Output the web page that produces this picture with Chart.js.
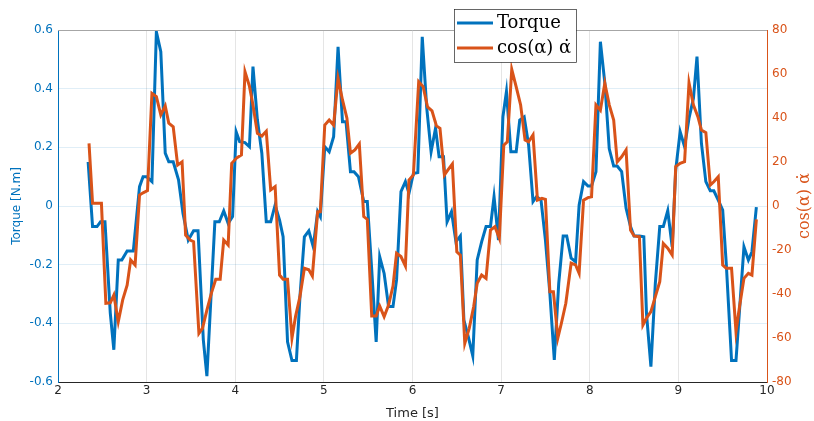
<!DOCTYPE html>
<html>
<head>
<meta charset="utf-8">
<script src="https://cdn.jsdelivr.net/npm/chart.js@4"></script>
<style>
  html, body { margin: 0; padding: 0; background: #fff; }
  #wrap { width: 814px; height: 421px; }
</style>
</head>
<body>
<div id="wrap"><canvas id="torqueChart" width="814" height="421"></canvas></div>
<script>
// Torque samples (time in s, torque in N.m)
const tTorque = [2.34, 2.39, 2.44, 2.48, 2.53, 2.59, 2.63, 2.68, 2.72, 2.78, 2.85, 2.92, 2.96, 3.00, 3.06, 3.11, 3.16, 3.21, 3.25, 3.30,
    3.36, 3.41, 3.47, 3.53, 3.58, 3.64, 3.68, 3.77, 3.82, 3.87, 3.92, 3.97, 4.01, 4.05, 4.11, 4.16, 4.20, 4.25, 4.30, 4.35,
    4.40, 4.45, 4.50, 4.54, 4.59, 4.64, 4.69, 4.73, 4.78, 4.83, 4.88, 4.93, 4.96, 5.01, 5.06, 5.11, 5.16, 5.21, 5.25, 5.30,
    5.34, 5.39, 5.45, 5.49, 5.54, 5.59, 5.63, 5.68, 5.73, 5.78, 5.82, 5.87, 5.92, 5.96, 6.01, 6.06, 6.11, 6.16, 6.21, 6.26,
    6.30, 6.35, 6.39, 6.44, 6.49, 6.54, 6.58, 6.63, 6.68, 6.73, 6.78, 6.83, 6.88, 6.92, 6.97, 7.02, 7.06, 7.11, 7.17, 7.21,
    7.26, 7.31, 7.36, 7.40, 7.45, 7.50, 7.55, 7.60, 7.65, 7.70, 7.74, 7.79, 7.84, 7.88, 7.93, 7.98, 8.02, 8.07, 8.12, 8.17,
    8.22, 8.27, 8.31, 8.36, 8.41, 8.46, 8.50, 8.56, 8.61, 8.64, 8.69, 8.74, 8.79, 8.83, 8.88, 8.93, 8.97, 9.02, 9.07, 9.12,
    9.17, 9.21, 9.26, 9.31, 9.36, 9.40, 9.45, 9.50, 9.54, 9.60, 9.65, 9.69, 9.74, 9.79, 9.83, 9.88];
const torque = [0.15, -0.07, -0.07, -0.054, -0.054, -0.365, -0.49, -0.184, -0.184, -0.153, -0.153, 0.066, 0.10, 0.10, 0.083, 0.594, 0.526, 0.18, 0.151, 0.151,
    0.089, -0.025, -0.116, -0.084, -0.084, -0.457, -0.58, -0.054, -0.054, -0.017, -0.059, -0.036, 0.253, 0.219, 0.216, 0.202, 0.475, 0.293, 0.18, -0.054,
    -0.054, 0.003, -0.048, -0.105, -0.463, -0.527, -0.527, -0.309, -0.105, -0.085, -0.139, -0.019, -0.036, 0.202, 0.185, 0.236, 0.543, 0.287, 0.287, 0.117,
    0.117, 0.10, 0.015, 0.015, -0.218, -0.463, -0.173, -0.23, -0.343, -0.343, -0.252, 0.049, 0.083, 0.043, 0.111, 0.114, 0.577, 0.336, 0.185, 0.265,
    0.168, 0.168, -0.054, -0.019, -0.122, -0.102, -0.389, -0.446, -0.511, -0.184, -0.122, -0.07, -0.07, 0.032, -0.116, 0.304, 0.39, 0.185, 0.185, 0.293,
    0.304, 0.208, 0.015, 0.032, 0.02, -0.116, -0.298, -0.525, -0.264, -0.102, -0.102, -0.178, -0.19, 0.003, 0.083, 0.068, 0.068, 0.117, 0.56, 0.42,
    0.195, 0.136, 0.136, 0.117, -0.008, -0.07, -0.102, -0.102, -0.105, -0.366, -0.548, -0.264, -0.07, -0.07, -0.016, -0.139, 0.123, 0.253, 0.202, 0.299,
    0.367, 0.509, 0.214, 0.083, 0.052, 0.052, 0.02, -0.014, -0.195, -0.527, -0.527, -0.355, -0.139, -0.184, -0.156, -0.004];

// cos(alpha) * alpha-dot samples
const tRate = [2.35, 2.39, 2.49, 2.54, 2.59, 2.63, 2.68, 2.73, 2.78, 2.82, 2.87, 2.92, 2.96, 3.01, 3.06, 3.11, 3.16, 3.21, 3.25, 3.30,
    3.35, 3.40, 3.44, 3.49, 3.53, 3.59, 3.63, 3.68, 3.73, 3.78, 3.83, 3.87, 3.92, 3.96, 4.02, 4.07, 4.11, 4.16, 4.20, 4.25,
    4.30, 4.35, 4.40, 4.45, 4.50, 4.54, 4.59, 4.64, 4.68, 4.73, 4.78, 4.83, 4.87, 4.93, 4.96, 5.01, 5.06, 5.11, 5.16, 5.21,
    5.26, 5.30, 5.35, 5.40, 5.45, 5.49, 5.54, 5.59, 5.63, 5.68, 5.73, 5.78, 5.82, 5.87, 5.92, 5.96, 6.01, 6.07, 6.12, 6.17,
    6.22, 6.27, 6.31, 6.36, 6.40, 6.45, 6.50, 6.54, 6.59, 6.64, 6.69, 6.73, 6.78, 6.83, 6.88, 6.93, 6.98, 7.03, 7.07, 7.12,
    7.17, 7.22, 7.27, 7.31, 7.36, 7.41, 7.46, 7.50, 7.55, 7.59, 7.64, 7.68, 7.73, 7.79, 7.84, 7.88, 7.93, 7.98, 8.02, 8.07,
    8.12, 8.17, 8.22, 8.27, 8.31, 8.36, 8.41, 8.46, 8.50, 8.56, 8.60, 8.64, 8.69, 8.74, 8.79, 8.83, 8.88, 8.93, 8.97, 9.02,
    9.07, 9.12, 9.17, 9.22, 9.26, 9.31, 9.36, 9.40, 9.45, 9.50, 9.54, 9.60, 9.65, 9.69, 9.74, 9.79, 9.83, 9.88];
const rate = [28.5, 1.2, 1.2, -44.2, -44, -40.5, -52.6, -42.7, -36, -24.5, -26.8, 5, 6, 7, 51.2, 49.7, 41.4, 45.5, 37.6, 36,
    18.6, 20.1, -13.2, -15.5, -16.2, -57.9, -55.6, -47.3, -39.7, -33.3, -33.3, -15.5, -17.7, 19.4, 22, 23.2, 61, 54.5, 45.9, 33,
    31.8, 34, 7.3, 8.8, -31.4, -33.3, -33.3, -60, -50.3, -41.2, -28.3, -29, -31.8, -2.6, -2.6, 36.8, 39.1, 36.8, 58, 48.2,
    39.9, 24, 25.5, 28.2, -4.8, -6.1, -50, -50, -45.5, -50.3, -45, -36.4, -21.5, -23, -27.3, 11.8, 14.1, 56.5, 54.2, 45,
    43.3, 36.4, 35.3, 14.1, 16.4, 19.1, -20.8, -22.3, -62.4, -55.6, -45.8, -35.1, -31.4, -32.9, -10.9, -9.4, -14.7, 27.7, 29.2, 62.1,
    54.2, 45.9, 30, 29.2, 32.3, 2.7, 3.5, 3.0, -39, -39, -60, -53.3, -44.2, -26, -26.8, -30.6, 2.7, 3.8, 4.2, 45.9,
    43.5, 55.8, 46, 39.1, 20.1, 22.4, 25.5, -10.9, -13.6, -14, -54.1, -51, -48, -41.2, -34.4, -17, -19.2, -22.3, 17.9, 19.4,
    20.1, 56, 45.9, 40.6, 34.5, 33.3, 9.5, 11, 13.3, -26.8, -28.3, -28.3, -57.1, -45.8, -32.9, -30.6, -31.4, -6.1];

const BLUE = '#0072BD';
const ORANGE = '#D95319';
const DARK = '#262626';

const toPoints = (xs, ys) => xs.map((x, i) => ({ x: x, y: ys[i] }));

// Box outline, right axis title and the legend box
const extras = {
    id: 'extras',
    afterDraw(chart) {
        const { ctx, chartArea: a } = chart;
        ctx.save();
        // top border of the box
        ctx.strokeStyle = '#a6a6a6';
        ctx.lineWidth = 1;
        ctx.beginPath();
        ctx.moveTo(a.left, a.top + 0.5);
        ctx.lineTo(a.right, a.top + 0.5);
        ctx.stroke();

        // right axis title, reading bottom to top
        ctx.fillStyle = ORANGE;
        ctx.font = '16px "DejaVu Serif", serif';
        ctx.translate(805, (a.top + a.bottom) / 2);
        ctx.rotate(-Math.PI / 2);
        ctx.textAlign = 'center';
        ctx.textBaseline = 'middle';
        ctx.fillText('cos(\u03B1) \u03B1\u0307', 0, 0);
        ctx.restore();

        // legend
        ctx.save();
        const lx = 454, ly = 9, lw = 122, lh = 53;
        ctx.fillStyle = '#fff';
        ctx.fillRect(lx, ly, lw, lh);
        ctx.strokeStyle = '#262626';
        ctx.lineWidth = 0.7;
        ctx.strokeRect(lx + 0.5, ly + 0.5, lw, lh);
        const rows = [
            { label: 'Torque', color: BLUE, y: ly + 14 },
            { label: 'cos(\u03B1) \u03B1\u0307', color: ORANGE, y: ly + 39 }
        ];
        ctx.font = '18px "DejaVu Serif", serif';
        ctx.textBaseline = 'middle';
        rows.forEach(r => {
            ctx.strokeStyle = r.color;
            ctx.lineWidth = 3;
            ctx.beginPath();
            ctx.moveTo(lx + 3, r.y);
            ctx.lineTo(lx + 39, r.y);
            ctx.stroke();
            ctx.fillStyle = '#000';
            ctx.fillText(r.label, lx + 43, r.y);
        });
        ctx.restore();
    }
};

const config = {
    type: 'line',
    data: {
        datasets: [{
            label: 'Torque',
            data: toPoints(tTorque, torque),
            borderColor: BLUE,
            borderWidth: 3,
            pointRadius: 0,
            tension: 0,
            order: 2, // drawn underneath the orange line
            yAxisID: 'y'
        }, {
            label: 'cos(\u03B1) \u03B1\u0307',
            data: toPoints(tRate, rate),
            borderColor: ORANGE,
            borderWidth: 3,
            pointRadius: 0,
            tension: 0,
            order: 1,
            yAxisID: 'y1'
        }]
    },
    options: {
        responsive: false,
        animation: false,
        layout: { padding: { top: 30, left: 0, right: 0, bottom: 0 } },
        plugins: {
            legend: { display: false },
            tooltip: { enabled: false }
        },
        scales: {
            x: {
                type: 'linear',
                min: 2,
                max: 10,
                ticks: { stepSize: 1, color: DARK, font: { family: 'DejaVu Sans', size: 12 }, padding: 2 },
                grid: { color: 'rgba(38,38,38,0.12)', drawTicks: false },
                border: { color: '#262626' },
                title: { display: true, text: 'Time [s]', color: DARK, font: { family: 'DejaVu Sans', size: 13 }, padding: { top: 0, bottom: 0 } },
                afterFit(scale) { scale.height = 39; }
            },
            y: {
                position: 'left',
                min: -0.6,
                max: 0.6,
                ticks: {
                    stepSize: 0.2,
                    color: BLUE,
                    font: { family: 'DejaVu Sans', size: 12 },
                    padding: 5,
                    callback: v => (Math.round(v * 10) / 10).toString()
                },
                grid: { color: 'rgba(0,114,189,0.12)', drawTicks: false },
                border: { color: BLUE },
                title: { display: true, text: 'Torque [N.m]', color: BLUE, font: { family: 'DejaVu Sans', size: 12 }, padding: { top: 10, bottom: 4 } },
                afterFit(scale) { scale.width = 58; }
            },
            y1: {
                position: 'right',
                min: -80,
                max: 80,
                ticks: { stepSize: 20, color: ORANGE, font: { family: 'DejaVu Sans', size: 12 }, padding: 5 },
                grid: { drawOnChartArea: false, drawTicks: false },
                border: { color: ORANGE },
                afterFit(scale) { scale.width = 47; }
            }
        }
    },
    plugins: [extras]
};

const ctx = document.getElementById('torqueChart').getContext('2d');
const torqueChart = new Chart(ctx, config);
</script>
</body>
</html>
